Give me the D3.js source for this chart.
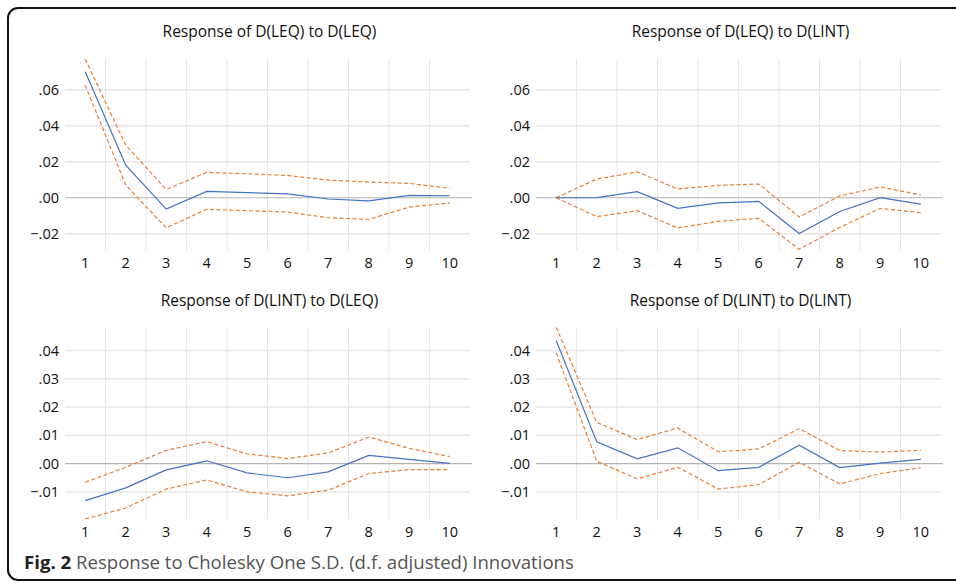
<!DOCTYPE html>
<html>
<head>
<meta charset="utf-8">
<script src="https://cdn.jsdelivr.net/npm/d3@7"></script>
<style>
  body { margin: 0; background: #fff; }
  svg { display: block; }
</style>
</head>
<body>
<svg id="chart" width="956" height="583"></svg>
<script>
// Periods on the x axis
const periods = [1, 2, 3, 4, 5, 6, 7, 8, 9, 10];

// Response of D(LEQ) to D(LEQ)
const leqLeqMid = [0.0699, 0.0181, -0.0063, 0.0035, 0.0028, 0.0022, -0.0007, -0.0017, 0.0013, 0.0011];
const leqLeqHi  = [0.0768, 0.0292, 0.0046, 0.0141, 0.0133, 0.0124, 0.0098, 0.0087, 0.0080, 0.0052];
const leqLeqLo  = [0.0625, 0.0070, -0.0167, -0.0064, -0.0072, -0.0079, -0.0111, -0.0120, -0.0052, -0.0029];

// Response of D(LEQ) to D(LINT)
const leqLintMid = [0, 0.0001, 0.0034, -0.0059, -0.0029, -0.0020, -0.0198, -0.0076, 0.0001, -0.0035];
const leqLintHi  = [0, 0.0104, 0.0143, 0.0049, 0.0069, 0.0076, -0.0107, 0.0010, 0.0060, 0.0016];
const leqLintLo  = [0, -0.0105, -0.0072, -0.0168, -0.0131, -0.0114, -0.0286, -0.0164, -0.0059, -0.0083];

// Response of D(LINT) to D(LEQ)
const lintLeqMid = [-0.0131, -0.0086, -0.0022, 0.0010, -0.0033, -0.0050, -0.0029, 0.0029, 0.0015, 0.0001];
const lintLeqHi  = [-0.0066, -0.0013, 0.0047, 0.0078, 0.0034, 0.0018, 0.0038, 0.0094, 0.0054, 0.0025];
const lintLeqLo  = [-0.0196, -0.0157, -0.0090, -0.0058, -0.0100, -0.0114, -0.0094, -0.0035, -0.0021, -0.0021];

// Response of D(LINT) to D(LINT)
const lintLintMid = [0.0435, 0.0077, 0.0017, 0.0056, -0.0025, -0.0013, 0.0065, -0.0014, 0.0002, 0.0015];
const lintLintHi  = [0.0482, 0.0146, 0.0085, 0.0126, 0.0042, 0.0052, 0.0124, 0.0046, 0.0041, 0.0047];
const lintLintLo  = [0.0392, 0.0008, -0.0054, -0.0013, -0.0090, -0.0074, 0.0005, -0.0072, -0.0035, -0.0015];

// Tick values / labels
const topTicks = [-0.02, 0, 0.02, 0.04, 0.06];
const bottomTicks = [-0.01, 0, 0.01, 0.02, 0.03, 0.04];
const topDomain = [-0.029, 0.077];
const bottomDomain = [-0.0196, 0.048];

const titles = [
  "Response of D(LEQ) to D(LEQ)",
  "Response of D(LEQ) to D(LINT)",
  "Response of D(LINT) to D(LEQ)",
  "Response of D(LINT) to D(LINT)"
];
const caption = ["Fig. 2", " Response to Cholesky One S.D. (d.f. adjusted) Innovations"];

const panels = [
  {title: titles[0], mid: leqLeqMid, hi: leqLeqHi, lo: leqLeqLo, ticks: topTicks, domain: topDomain, x0: 65, x1: 470, y0: 59, y1: 250},
  {title: titles[1], mid: leqLintMid, hi: leqLintHi, lo: leqLintLo, ticks: topTicks, domain: topDomain, x0: 536, x1: 941, y0: 59, y1: 250},
  {title: titles[2], mid: lintLeqMid, hi: lintLeqHi, lo: lintLeqLo, ticks: bottomTicks, domain: bottomDomain, x0: 65, x1: 470, y0: 328, y1: 519},
  {title: titles[3], mid: lintLintMid, hi: lintLintHi, lo: lintLintLo, ticks: bottomTicks, domain: bottomDomain, x0: 536, x1: 941, y0: 328, y1: 519}
];

const COLORS = {mid: "#4472C4", band: "#ED7D31", grid: "#e6e6e6", zero: "#b4b4b4"};
const FONT = "'Open Sans', 'Noto Sans', sans-serif";

const svg = d3.select("#chart");

// Outer frame
svg.append("rect")
  .attr("x", 8).attr("y", 8)
  .attr("width", 970).attr("height", 572)
  .attr("rx", 10)
  .attr("fill", "none")
  .attr("stroke", "#111")
  .attr("stroke-width", 2);

panels.forEach(p => {
  const g = svg.append("g");

  const x = d3.scaleBand()
    .domain(periods)
    .range([p.x0, p.x1]);

  const y = d3.scaleLinear()
    .domain(p.domain)
    .range([p.y1, p.y0]);

  const cx = d => x(d) + x.bandwidth() / 2;

  // vertical grid between periods
  g.selectAll(".vgrid")
    .data(periods.slice(1))
    .join("line")
    .attr("x1", d => x(d)).attr("x2", d => x(d))
    .attr("y1", p.y0).attr("y2", p.y1)
    .attr("stroke", COLORS.grid)
    .attr("stroke-width", 1);

  // horizontal grid
  g.selectAll(".hgrid")
    .data(p.ticks.filter(t => t !== 0))
    .join("line")
    .attr("x1", p.x0).attr("x2", p.x1)
    .attr("y1", d => y(d)).attr("y2", d => y(d))
    .attr("stroke", COLORS.grid)
    .attr("stroke-width", 1.5);

  g.append("line")
    .attr("x1", p.x0).attr("x2", p.x1 + 2)
    .attr("y1", y(0)).attr("y2", y(0))
    .attr("stroke", COLORS.zero)
    .attr("stroke-width", 1.2);

  // y tick labels
  g.selectAll(".ylab")
    .data(p.ticks)
    .join("text")
    .attr("x", p.x0 - 6)
    .attr("y", d => y(d))
    .attr("dy", "0.35em")
    .attr("text-anchor", "end")
    .attr("font-family", FONT)
    .attr("font-size", "14.5px")
    .attr("fill", "#111")
    .text(d => d3.format(".2f")(d).replace("0.", "."));

  // x tick labels
  g.selectAll(".xlab")
    .data(periods)
    .join("text")
    .attr("x", d => cx(d))
    .attr("y", p.y1 + 18)
    .attr("text-anchor", "middle")
    .attr("font-family", FONT)
    .attr("font-size", "14.5px")
    .attr("fill", "#111")
    .text(d => d);

  // title
  g.append("text")
    .attr("x", (p.x0 + p.x1) / 2 + 2)
    .attr("y", p.y0 - 22)
    .attr("text-anchor", "middle")
    .attr("font-family", FONT)
    .attr("font-size", "15.5px")
    .attr("fill", "#111")
    .text(p.title);

  const line = d3.line()
    .x((d, i) => cx(periods[i]))
    .y(d => y(d));

  [p.hi, p.lo].forEach(band => {
    g.append("path")
      .attr("d", line(band))
      .attr("fill", "none")
      .attr("stroke", COLORS.band)
      .attr("stroke-width", 1.2)
      .attr("stroke-dasharray", "4,2.5");
  });

  g.append("path")
    .attr("d", line(p.mid))
    .attr("fill", "none")
    .attr("stroke", COLORS.mid)
    .attr("stroke-width", 1.2);
});

// caption
const cap = svg.append("text")
  .attr("x", 24)
  .attr("y", 569)
  .attr("font-family", FONT)
  .attr("font-size", "18.6px");
cap.append("tspan").attr("font-weight", "bold").attr("fill", "#222").text(caption[0]);
cap.append("tspan").attr("fill", "#555").text(caption[1]);
</script>
</body>
</html>
